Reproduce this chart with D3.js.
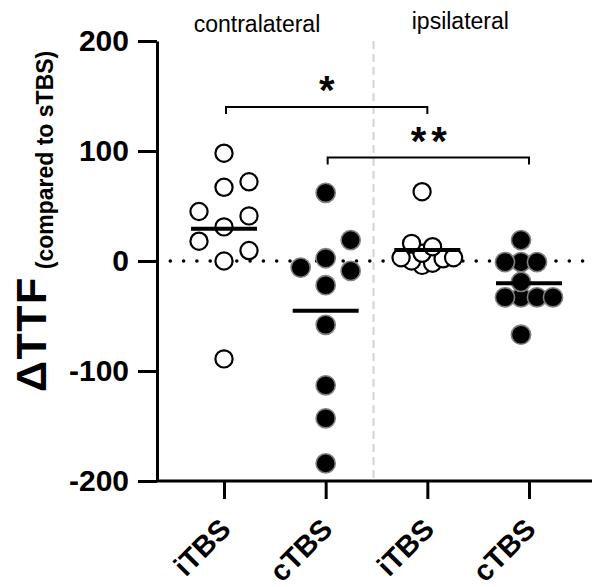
<!DOCTYPE html>
<html>
<head>
<meta charset="utf-8">
<script src="https://cdn.jsdelivr.net/npm/d3@7"></script>
<style>
  body { margin: 0; background: #fff; }
  svg { display: block; font-family: 'Liberation Sans', Arial, sans-serif; }
</style>
</head>
<body>
<svg class="ttf-chart"></svg>
<script>
const categories = ['iTBS', 'cTBS', 'iTBS', 'cTBS'];
const sides = ['contralateral', 'ipsilateral'];

const contraITBS = [98, 72, 67, 45, 41, 31, 18, 9.5, 0, -89];
const contraCTBS = [62, 19, 2.5, -6, -9, -22, -58, -113, -143, -184];
const ipsiITBS = [63, 16, 13, 7, 3, 3, 2, 0, -2, -4];
const ipsiCTBS = [19, -1, -1, -1, -19, -33, -33, -33, -33, -67];

const yTicks = [-200, -100, 0, 100, 200];
const comparisons = [[0, 2, '*'], [1, 3, '**']];

const chartWidth = 592,
      chartHeight = 587;

const groups = [
  {values: contraITBS, filled: false},
  {values: contraCTBS, filled: true},
  {values: ipsiITBS, filled: false},
  {values: ipsiCTBS, filled: true}
];

const yScale = d3.scaleLinear()
                 .domain([-200, 200])
                 .range([481, 41]);

const xScale = d3.scalePoint()
                 .domain(d3.range(categories.length))
                 .range([224, 529]);

const chart = d3.select('.ttf-chart')
                .attr('width', chartWidth)
                .attr('height', chartHeight);

// simple beeswarm: slots from the centre, squeezed until the group fits its column
function swarm(values) {
  const order = values.map((v, i) => i).sort((a, b) => values[a] - values[b]);
  for (let f = 1; f > 0.1; f -= 0.02) {
    const step = 25 * f, minDist = 24 * f;
    const placed = [];
    order.forEach(i => {
      const y = yScale(values[i]);
      for (let k = 0; k < 60; k++) {
        const x = (k % 2 ? (k + 1) / 2 : -k / 2) * step;
        if (placed.every(p => Math.hypot(p.x - x, p.y - y) >= minDist)) {
          placed.push({x: x, y: y, v: values[i]});
          break;
        }
      }
    });
    const lo = d3.min(placed, p => p.x), hi = d3.max(placed, p => p.x);
    if (hi - lo <= 54) {
      placed.forEach(p => p.x -= (hi + lo) / 2);
      return placed;
    }
  }
}

// separator and zero line
chart.append('line')
     .attr('x1', (xScale(1) + xScale(2)) / 2 - 3)
     .attr('x2', (xScale(1) + xScale(2)) / 2 - 3)
     .attr('y1', yScale(200))
     .attr('y2', yScale(-200))
     .attr('stroke', '#d4d4d4')
     .attr('stroke-width', 2)
     .attr('stroke-dasharray', '8 5');

chart.append('line')
     .attr('x1', 157)
     .attr('x2', chartWidth)
     .attr('y1', yScale(0))
     .attr('y2', yScale(0))
     .attr('stroke', '#000')
     .attr('stroke-width', 3.6)
     .attr('stroke-linecap', 'round')
     .attr('stroke-dasharray', '0 13.3');

// axes
const yAxis = d3.axisLeft()
                .scale(yScale)
                .tickValues(yTicks)
                .tickFormat(d => String(d))
                .tickSize(19)
                .tickSizeOuter(0)
                .tickPadding(9);

const xAxis = d3.axisBottom()
                .scale(xScale)
                .tickSize(18)
                .tickSizeOuter(0)
                .tickFormat(i => categories[i]);

const yAxisG = chart.append('g')
                    .attr('transform', 'translate(157, 0)')
                    .call(yAxis);

const xAxisG = chart.append('g')
                    .attr('transform', 'translate(0, ' + yScale(-200) + ')')
                    .call(xAxis);

xAxisG.select('.domain').attr('d', 'M157,0H' + chartWidth);

[yAxisG, xAxisG].forEach(g => {
  g.selectAll('.domain, .tick line')
   .attr('stroke', '#000')
   .attr('stroke-width', 3);
  g.selectAll('.tick text')
   .attr('fill', '#000')
   .style('font-size', '30px')
   .style('font-weight', 'bold');
});

xAxisG.selectAll('.tick text')
      .attr('x', 0)
      .attr('y', 0)
      .attr('dy', 0)
      .attr('transform', 'translate(8, 50) rotate(-45)')
      .style('font-size', '29px')
      .style('text-anchor', 'end');

// y title with subscript
const yTitle = chart.append('text')
                    .attr('transform', 'translate(46, 392) rotate(-90)')
                    .attr('font-weight', 'bold')
                    .attr('fill', '#000');

yTitle.append('tspan')
      .attr('font-size', 43)
      .attr('letter-spacing', 1.5)
      .text('\u0394TTF');

yTitle.append('tspan')
      .attr('font-size', 23)
      .attr('dx', 7)
      .attr('dy', 7)
      .text('(compared to sTBS)');

// side labels
chart.selectAll('text.side')
     .data(sides)
     .enter()
     .append('text')
     .attr('class', 'side')
     .attr('x', (d, i) => xScale(i * 2) + 33)
     .attr('y', (d, i) => i ? 29 : 32)
     .attr('text-anchor', 'middle')
     .attr('font-size', 23)
     .attr('fill', '#000')
     .text(d => d);

// significance brackets
const bracketLevels = [140, 94];

comparisons.forEach((c, i) => {
  const x1 = xScale(c[0]) + 2,
        x2 = xScale(c[1]),
        y = yScale(bracketLevels[i]);
  chart.append('path')
       .attr('d', 'M' + x1 + ',' + (y + 7) + 'V' + y + 'H' + x2 + 'V' + (y + 7))
       .attr('fill', 'none')
       .attr('stroke', '#000')
       .attr('stroke-width', 2);
  chart.append('text')
       .attr('x', (x1 + x2) / 2 + (c[2].length > 1 ? 3 : 0))
       .attr('y', y - 3)
       .attr('text-anchor', 'middle')
       .attr('font-size', 40)
       .attr('font-weight', 'bold')
       .attr('letter-spacing', c[2].length > 1 ? 5 : 0)
       .attr('fill', '#000')
       .text(c[2]);
});

// points and mean lines
groups.forEach((g, gi) => {
  const cx = xScale(gi);
  chart.append('g')
       .selectAll('circle')
       .data(swarm(g.values))
       .enter()
       .append('circle')
       .attr('cx', d => cx + d.x)
       .attr('cy', d => d.y)
       .attr('r', g.filled ? 9.6 : 8.6)
       .attr('fill', g.filled ? '#000' : '#fff')
       .attr('stroke', g.filled ? '#808080' : '#000')
       .attr('stroke-width', g.filled ? 1.6 : 2.2);

  chart.append('line')
       .attr('x1', cx - 33)
       .attr('x2', cx + 33)
       .attr('y1', yScale(d3.mean(g.values)))
       .attr('y2', yScale(d3.mean(g.values)))
       .attr('stroke', '#000')
       .attr('stroke-width', 4);
});
</script>
</body>
</html>
